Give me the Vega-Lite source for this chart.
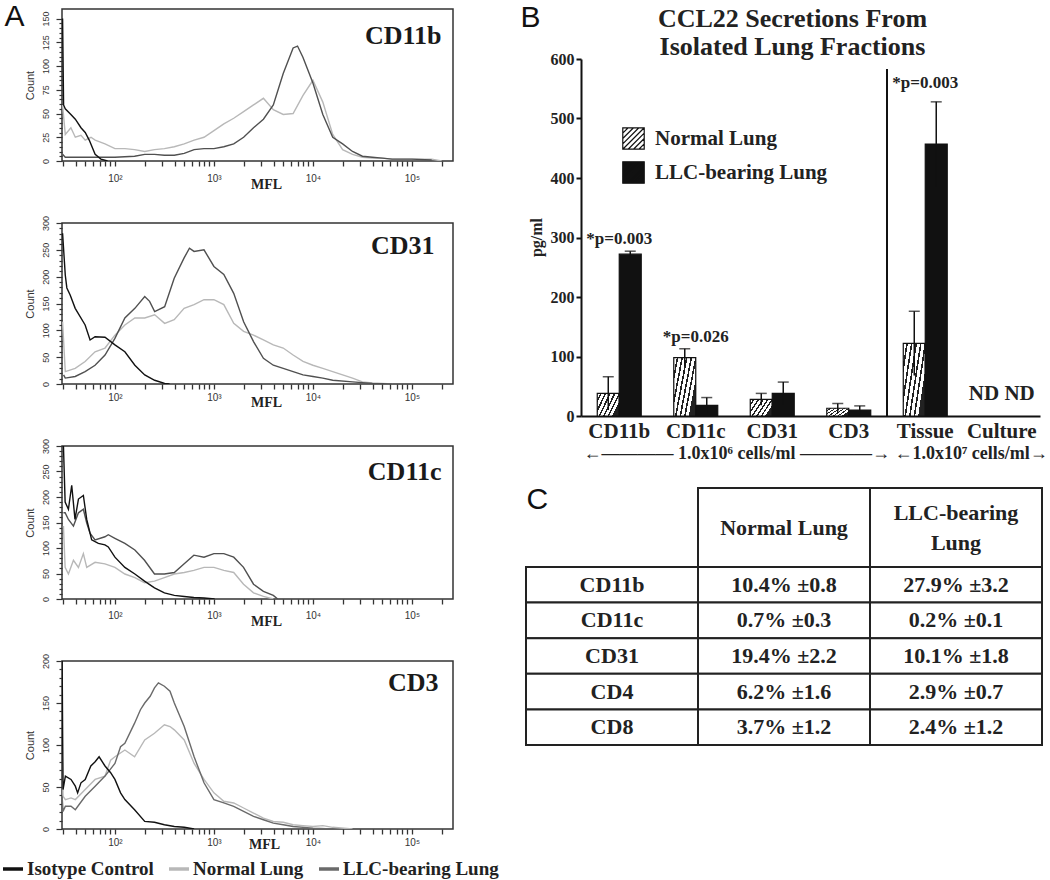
{
"$schema": "https://vega.github.io/schema/vega-lite/v6.json",
"padding": 0,
"background": "white",
"config": {
  "font": "Liberation Sans",
  "view": {"stroke": "#333", "strokeWidth": 1.5},
  "axis": {"grid": false}
},
"datasets": {
"hist": [
{"p":"CD11b","s":"Normal Lung","x":29.6,"y":59},{"p":"CD11b","s":"Normal Lung","x":31.5,"y":28},{"p":"CD11b","s":"Normal Lung","x":35.9,"y":35},{"p":"CD11b","s":"Normal Lung","x":39.8,"y":25},{"p":"CD11b","s":"Normal Lung","x":45.4,"y":27},{"p":"CD11b","s":"Normal Lung","x":50.1,"y":22},{"p":"CD11b","s":"Normal Lung","x":57.3,"y":25},{"p":"CD11b","s":"Normal Lung","x":63.1,"y":22},{"p":"CD11b","s":"Normal Lung","x":79.4,"y":18},{"p":"CD11b","s":"Normal Lung","x":100,"y":13},{"p":"CD11b","s":"Normal Lung","x":126,"y":13},{"p":"CD11b","s":"Normal Lung","x":158,"y":12},{"p":"CD11b","s":"Normal Lung","x":200,"y":10},{"p":"CD11b","s":"Normal Lung","x":251,"y":12},{"p":"CD11b","s":"Normal Lung","x":316,"y":13},{"p":"CD11b","s":"Normal Lung","x":398,"y":15},{"p":"CD11b","s":"Normal Lung","x":501,"y":18},{"p":"CD11b","s":"Normal Lung","x":631,"y":22},{"p":"CD11b","s":"Normal Lung","x":794,"y":25},{"p":"CD11b","s":"Normal Lung","x":1000,"y":32},{"p":"CD11b","s":"Normal Lung","x":1259,"y":39},{"p":"CD11b","s":"Normal Lung","x":1585,"y":45},{"p":"CD11b","s":"Normal Lung","x":1995,"y":52},{"p":"CD11b","s":"Normal Lung","x":2512,"y":59},{"p":"CD11b","s":"Normal Lung","x":3162,"y":66},{"p":"CD11b","s":"Normal Lung","x":3981,"y":54},{"p":"CD11b","s":"Normal Lung","x":5012,"y":49},{"p":"CD11b","s":"Normal Lung","x":6310,"y":50},{"p":"CD11b","s":"Normal Lung","x":7943,"y":69},{"p":"CD11b","s":"Normal Lung","x":10000,"y":85},{"p":"CD11b","s":"Normal Lung","x":12589,"y":62},{"p":"CD11b","s":"Normal Lung","x":15849,"y":28},{"p":"CD11b","s":"Normal Lung","x":19953,"y":12},{"p":"CD11b","s":"Normal Lung","x":25119,"y":7},{"p":"CD11b","s":"Normal Lung","x":31623,"y":4},{"p":"CD11b","s":"Normal Lung","x":39811,"y":3},{"p":"CD11b","s":"Normal Lung","x":50119,"y":3},{"p":"CD11b","s":"Normal Lung","x":63096,"y":2},{"p":"CD11b","s":"Normal Lung","x":79433,"y":2},{"p":"CD11b","s":"Normal Lung","x":100000,"y":2},{"p":"CD11b","s":"Normal Lung","x":158489,"y":2},{"p":"CD11b","s":"Normal Lung","x":200000,"y":0},
{"p":"CD11b","s":"LLC-bearing Lung","x":29.6,"y":7},{"p":"CD11b","s":"LLC-bearing Lung","x":31.5,"y":4},{"p":"CD11b","s":"LLC-bearing Lung","x":50.1,"y":4},{"p":"CD11b","s":"LLC-bearing Lung","x":79.4,"y":4},{"p":"CD11b","s":"LLC-bearing Lung","x":100,"y":4},{"p":"CD11b","s":"LLC-bearing Lung","x":158,"y":5},{"p":"CD11b","s":"LLC-bearing Lung","x":200,"y":7},{"p":"CD11b","s":"LLC-bearing Lung","x":251,"y":7},{"p":"CD11b","s":"LLC-bearing Lung","x":316,"y":6},{"p":"CD11b","s":"LLC-bearing Lung","x":398,"y":6},{"p":"CD11b","s":"LLC-bearing Lung","x":501,"y":8},{"p":"CD11b","s":"LLC-bearing Lung","x":631,"y":12},{"p":"CD11b","s":"LLC-bearing Lung","x":794,"y":13},{"p":"CD11b","s":"LLC-bearing Lung","x":1000,"y":13},{"p":"CD11b","s":"LLC-bearing Lung","x":1259,"y":15},{"p":"CD11b","s":"LLC-bearing Lung","x":1585,"y":18},{"p":"CD11b","s":"LLC-bearing Lung","x":1995,"y":25},{"p":"CD11b","s":"LLC-bearing Lung","x":2512,"y":35},{"p":"CD11b","s":"LLC-bearing Lung","x":3162,"y":44},{"p":"CD11b","s":"LLC-bearing Lung","x":3981,"y":59},{"p":"CD11b","s":"LLC-bearing Lung","x":5012,"y":92},{"p":"CD11b","s":"LLC-bearing Lung","x":6310,"y":119},{"p":"CD11b","s":"LLC-bearing Lung","x":6990,"y":121},{"p":"CD11b","s":"LLC-bearing Lung","x":7943,"y":109},{"p":"CD11b","s":"LLC-bearing Lung","x":10000,"y":82},{"p":"CD11b","s":"LLC-bearing Lung","x":12589,"y":49},{"p":"CD11b","s":"LLC-bearing Lung","x":15849,"y":25},{"p":"CD11b","s":"LLC-bearing Lung","x":19953,"y":18},{"p":"CD11b","s":"LLC-bearing Lung","x":25119,"y":10},{"p":"CD11b","s":"LLC-bearing Lung","x":31623,"y":5},{"p":"CD11b","s":"LLC-bearing Lung","x":39811,"y":4},{"p":"CD11b","s":"LLC-bearing Lung","x":50119,"y":3},{"p":"CD11b","s":"LLC-bearing Lung","x":63096,"y":2},{"p":"CD11b","s":"LLC-bearing Lung","x":100000,"y":2},{"p":"CD11b","s":"LLC-bearing Lung","x":158489,"y":1},
{"p":"CD11b","s":"Isotype Control","x":29.6,"y":150},{"p":"CD11b","s":"Isotype Control","x":30.3,"y":59},{"p":"CD11b","s":"Isotype Control","x":31.5,"y":55},{"p":"CD11b","s":"Isotype Control","x":35.9,"y":49},{"p":"CD11b","s":"Isotype Control","x":39.8,"y":44},{"p":"CD11b","s":"Isotype Control","x":45.4,"y":35},{"p":"CD11b","s":"Isotype Control","x":50.1,"y":30},{"p":"CD11b","s":"Isotype Control","x":55,"y":22},{"p":"CD11b","s":"Isotype Control","x":63.1,"y":7},{"p":"CD11b","s":"Isotype Control","x":72.2,"y":2},{"p":"CD11b","s":"Isotype Control","x":84.3,"y":0},

{"p":"CD31","s":"Normal Lung","x":29.6,"y":116},{"p":"CD31","s":"Normal Lung","x":31.5,"y":23},{"p":"CD31","s":"Normal Lung","x":39.7,"y":29},{"p":"CD31","s":"Normal Lung","x":50,"y":42},{"p":"CD31","s":"Normal Lung","x":63,"y":60},{"p":"CD31","s":"Normal Lung","x":79.4,"y":67},{"p":"CD31","s":"Normal Lung","x":100,"y":91},{"p":"CD31","s":"Normal Lung","x":126,"y":110},{"p":"CD31","s":"Normal Lung","x":159,"y":123},{"p":"CD31","s":"Normal Lung","x":200,"y":123},{"p":"CD31","s":"Normal Lung","x":252,"y":129},{"p":"CD31","s":"Normal Lung","x":318,"y":113},{"p":"CD31","s":"Normal Lung","x":397,"y":120},{"p":"CD31","s":"Normal Lung","x":500,"y":141},{"p":"CD31","s":"Normal Lung","x":630,"y":148},{"p":"CD31","s":"Normal Lung","x":794,"y":157},{"p":"CD31","s":"Normal Lung","x":1000,"y":157},{"p":"CD31","s":"Normal Lung","x":1259,"y":148},{"p":"CD31","s":"Normal Lung","x":1585,"y":113},{"p":"CD31","s":"Normal Lung","x":1995,"y":98},{"p":"CD31","s":"Normal Lung","x":2512,"y":91},{"p":"CD31","s":"Normal Lung","x":3162,"y":82},{"p":"CD31","s":"Normal Lung","x":3981,"y":73},{"p":"CD31","s":"Normal Lung","x":5012,"y":67},{"p":"CD31","s":"Normal Lung","x":6310,"y":54},{"p":"CD31","s":"Normal Lung","x":7943,"y":42},{"p":"CD31","s":"Normal Lung","x":10000,"y":35},{"p":"CD31","s":"Normal Lung","x":12589,"y":29},{"p":"CD31","s":"Normal Lung","x":15849,"y":23},{"p":"CD31","s":"Normal Lung","x":19953,"y":17},{"p":"CD31","s":"Normal Lung","x":25119,"y":11},{"p":"CD31","s":"Normal Lung","x":31623,"y":4},{"p":"CD31","s":"Normal Lung","x":39811,"y":2},{"p":"CD31","s":"Normal Lung","x":63096,"y":0},
{"p":"CD31","s":"LLC-bearing Lung","x":30.3,"y":17},{"p":"CD31","s":"LLC-bearing Lung","x":31.5,"y":11},{"p":"CD31","s":"LLC-bearing Lung","x":39.7,"y":14},{"p":"CD31","s":"LLC-bearing Lung","x":50,"y":23},{"p":"CD31","s":"LLC-bearing Lung","x":63,"y":35},{"p":"CD31","s":"LLC-bearing Lung","x":79.4,"y":54},{"p":"CD31","s":"LLC-bearing Lung","x":100,"y":85},{"p":"CD31","s":"LLC-bearing Lung","x":126,"y":123},{"p":"CD31","s":"LLC-bearing Lung","x":159,"y":141},{"p":"CD31","s":"LLC-bearing Lung","x":200,"y":163},{"p":"CD31","s":"LLC-bearing Lung","x":224,"y":154},{"p":"CD31","s":"LLC-bearing Lung","x":252,"y":135},{"p":"CD31","s":"LLC-bearing Lung","x":318,"y":144},{"p":"CD31","s":"LLC-bearing Lung","x":397,"y":197},{"p":"CD31","s":"LLC-bearing Lung","x":500,"y":235},{"p":"CD31","s":"LLC-bearing Lung","x":566,"y":253},{"p":"CD31","s":"LLC-bearing Lung","x":630,"y":247},{"p":"CD31","s":"LLC-bearing Lung","x":794,"y":250},{"p":"CD31","s":"LLC-bearing Lung","x":1000,"y":219},{"p":"CD31","s":"LLC-bearing Lung","x":1259,"y":204},{"p":"CD31","s":"LLC-bearing Lung","x":1585,"y":169},{"p":"CD31","s":"LLC-bearing Lung","x":1995,"y":116},{"p":"CD31","s":"LLC-bearing Lung","x":2512,"y":79},{"p":"CD31","s":"LLC-bearing Lung","x":3162,"y":48},{"p":"CD31","s":"LLC-bearing Lung","x":3981,"y":35},{"p":"CD31","s":"LLC-bearing Lung","x":5012,"y":29},{"p":"CD31","s":"LLC-bearing Lung","x":6310,"y":23},{"p":"CD31","s":"LLC-bearing Lung","x":7943,"y":17},{"p":"CD31","s":"LLC-bearing Lung","x":10000,"y":14},{"p":"CD31","s":"LLC-bearing Lung","x":12589,"y":11},{"p":"CD31","s":"LLC-bearing Lung","x":15849,"y":7},{"p":"CD31","s":"LLC-bearing Lung","x":25119,"y":4},{"p":"CD31","s":"LLC-bearing Lung","x":39811,"y":1},{"p":"CD31","s":"LLC-bearing Lung","x":63096,"y":0},
{"p":"CD31","s":"Isotype Control","x":29.6,"y":281},{"p":"CD31","s":"Isotype Control","x":31.5,"y":203},{"p":"CD31","s":"Isotype Control","x":32.7,"y":179},{"p":"CD31","s":"Isotype Control","x":35.3,"y":166},{"p":"CD31","s":"Isotype Control","x":39.7,"y":141},{"p":"CD31","s":"Isotype Control","x":50,"y":110},{"p":"CD31","s":"Isotype Control","x":56.1,"y":82},{"p":"CD31","s":"Isotype Control","x":63,"y":88},{"p":"CD31","s":"Isotype Control","x":79.4,"y":87},{"p":"CD31","s":"Isotype Control","x":100,"y":73},{"p":"CD31","s":"Isotype Control","x":126,"y":60},{"p":"CD31","s":"Isotype Control","x":159,"y":35},{"p":"CD31","s":"Isotype Control","x":200,"y":17},{"p":"CD31","s":"Isotype Control","x":252,"y":7},{"p":"CD31","s":"Isotype Control","x":318,"y":1},{"p":"CD31","s":"Isotype Control","x":356,"y":0},

{"p":"CD11c","s":"Normal Lung","x":30.2,"y":143},{"p":"CD11c","s":"Normal Lung","x":31.4,"y":62},{"p":"CD11c","s":"Normal Lung","x":33.9,"y":49},{"p":"CD11c","s":"Normal Lung","x":38.1,"y":76},{"p":"CD11c","s":"Normal Lung","x":42.8,"y":62},{"p":"CD11c","s":"Normal Lung","x":48,"y":89},{"p":"CD11c","s":"Normal Lung","x":51.9,"y":62},{"p":"CD11c","s":"Normal Lung","x":63,"y":72},{"p":"CD11c","s":"Normal Lung","x":79.3,"y":69},{"p":"CD11c","s":"Normal Lung","x":100,"y":62},{"p":"CD11c","s":"Normal Lung","x":126,"y":49},{"p":"CD11c","s":"Normal Lung","x":159,"y":42},{"p":"CD11c","s":"Normal Lung","x":199,"y":32},{"p":"CD11c","s":"Normal Lung","x":251,"y":35},{"p":"CD11c","s":"Normal Lung","x":316,"y":42},{"p":"CD11c","s":"Normal Lung","x":398,"y":49},{"p":"CD11c","s":"Normal Lung","x":501,"y":52},{"p":"CD11c","s":"Normal Lung","x":627,"y":56},{"p":"CD11c","s":"Normal Lung","x":794,"y":62},{"p":"CD11c","s":"Normal Lung","x":1000,"y":62},{"p":"CD11c","s":"Normal Lung","x":1259,"y":56},{"p":"CD11c","s":"Normal Lung","x":1585,"y":52},{"p":"CD11c","s":"Normal Lung","x":1991,"y":29},{"p":"CD11c","s":"Normal Lung","x":2512,"y":12},{"p":"CD11c","s":"Normal Lung","x":3162,"y":5},{"p":"CD11c","s":"Normal Lung","x":3981,"y":0},
{"p":"CD11c","s":"LLC-bearing Lung","x":30.2,"y":169},{"p":"CD11c","s":"LLC-bearing Lung","x":31.4,"y":169},{"p":"CD11c","s":"LLC-bearing Lung","x":33.9,"y":156},{"p":"CD11c","s":"LLC-bearing Lung","x":38.1,"y":143},{"p":"CD11c","s":"LLC-bearing Lung","x":42.8,"y":169},{"p":"CD11c","s":"LLC-bearing Lung","x":48,"y":176},{"p":"CD11c","s":"LLC-bearing Lung","x":51.9,"y":149},{"p":"CD11c","s":"LLC-bearing Lung","x":56,"y":129},{"p":"CD11c","s":"LLC-bearing Lung","x":63,"y":116},{"p":"CD11c","s":"LLC-bearing Lung","x":79.3,"y":122},{"p":"CD11c","s":"LLC-bearing Lung","x":85.7,"y":126},{"p":"CD11c","s":"LLC-bearing Lung","x":100,"y":119},{"p":"CD11c","s":"LLC-bearing Lung","x":126,"y":109},{"p":"CD11c","s":"LLC-bearing Lung","x":159,"y":96},{"p":"CD11c","s":"LLC-bearing Lung","x":199,"y":76},{"p":"CD11c","s":"LLC-bearing Lung","x":251,"y":49},{"p":"CD11c","s":"LLC-bearing Lung","x":316,"y":49},{"p":"CD11c","s":"LLC-bearing Lung","x":398,"y":52},{"p":"CD11c","s":"LLC-bearing Lung","x":501,"y":69},{"p":"CD11c","s":"LLC-bearing Lung","x":627,"y":86},{"p":"CD11c","s":"LLC-bearing Lung","x":794,"y":82},{"p":"CD11c","s":"LLC-bearing Lung","x":1000,"y":89},{"p":"CD11c","s":"LLC-bearing Lung","x":1259,"y":89},{"p":"CD11c","s":"LLC-bearing Lung","x":1585,"y":82},{"p":"CD11c","s":"LLC-bearing Lung","x":1991,"y":62},{"p":"CD11c","s":"LLC-bearing Lung","x":2512,"y":29},{"p":"CD11c","s":"LLC-bearing Lung","x":3162,"y":15},{"p":"CD11c","s":"LLC-bearing Lung","x":3981,"y":7},{"p":"CD11c","s":"LLC-bearing Lung","x":4406,"y":0},
{"p":"CD11c","s":"Isotype Control","x":30.2,"y":300},{"p":"CD11c","s":"Isotype Control","x":31.4,"y":190},{"p":"CD11c","s":"Isotype Control","x":33.9,"y":176},{"p":"CD11c","s":"Isotype Control","x":36.6,"y":223},{"p":"CD11c","s":"Isotype Control","x":39.5,"y":156},{"p":"CD11c","s":"Isotype Control","x":42.8,"y":196},{"p":"CD11c","s":"Isotype Control","x":48,"y":203},{"p":"CD11c","s":"Isotype Control","x":51.9,"y":156},{"p":"CD11c","s":"Isotype Control","x":58.2,"y":116},{"p":"CD11c","s":"Isotype Control","x":68,"y":109},{"p":"CD11c","s":"Isotype Control","x":79.3,"y":106},{"p":"CD11c","s":"Isotype Control","x":85.7,"y":102},{"p":"CD11c","s":"Isotype Control","x":100,"y":82},{"p":"CD11c","s":"Isotype Control","x":126,"y":62},{"p":"CD11c","s":"Isotype Control","x":159,"y":49},{"p":"CD11c","s":"Isotype Control","x":199,"y":35},{"p":"CD11c","s":"Isotype Control","x":251,"y":22},{"p":"CD11c","s":"Isotype Control","x":316,"y":12},{"p":"CD11c","s":"Isotype Control","x":398,"y":7},{"p":"CD11c","s":"Isotype Control","x":501,"y":5},{"p":"CD11c","s":"Isotype Control","x":627,"y":3},{"p":"CD11c","s":"Isotype Control","x":794,"y":2},{"p":"CD11c","s":"Isotype Control","x":1016,"y":0},

{"p":"CD3","s":"Normal Lung","x":29.3,"y":118},{"p":"CD3","s":"Normal Lung","x":29.9,"y":39},{"p":"CD3","s":"Normal Lung","x":31.6,"y":35},{"p":"CD3","s":"Normal Lung","x":36,"y":37},{"p":"CD3","s":"Normal Lung","x":39.8,"y":35},{"p":"CD3","s":"Normal Lung","x":50.1,"y":47},{"p":"CD3","s":"Normal Lung","x":63.1,"y":59},{"p":"CD3","s":"Normal Lung","x":79.4,"y":63},{"p":"CD3","s":"Normal Lung","x":90.5,"y":82},{"p":"CD3","s":"Normal Lung","x":100,"y":86},{"p":"CD3","s":"Normal Lung","x":126,"y":94},{"p":"CD3","s":"Normal Lung","x":158,"y":86},{"p":"CD3","s":"Normal Lung","x":200,"y":106},{"p":"CD3","s":"Normal Lung","x":251,"y":114},{"p":"CD3","s":"Normal Lung","x":316,"y":124},{"p":"CD3","s":"Normal Lung","x":360,"y":122},{"p":"CD3","s":"Normal Lung","x":398,"y":118},{"p":"CD3","s":"Normal Lung","x":501,"y":106},{"p":"CD3","s":"Normal Lung","x":631,"y":78},{"p":"CD3","s":"Normal Lung","x":794,"y":59},{"p":"CD3","s":"Normal Lung","x":1000,"y":43},{"p":"CD3","s":"Normal Lung","x":1259,"y":33},{"p":"CD3","s":"Normal Lung","x":1585,"y":31},{"p":"CD3","s":"Normal Lung","x":1995,"y":25},{"p":"CD3","s":"Normal Lung","x":2512,"y":19},{"p":"CD3","s":"Normal Lung","x":3162,"y":13},{"p":"CD3","s":"Normal Lung","x":3981,"y":9},{"p":"CD3","s":"Normal Lung","x":5012,"y":8},{"p":"CD3","s":"Normal Lung","x":6310,"y":5},{"p":"CD3","s":"Normal Lung","x":7943,"y":4},{"p":"CD3","s":"Normal Lung","x":10000,"y":3},{"p":"CD3","s":"Normal Lung","x":12589,"y":4},{"p":"CD3","s":"Normal Lung","x":15849,"y":2},{"p":"CD3","s":"Normal Lung","x":25119,"y":0},
{"p":"CD3","s":"LLC-bearing Lung","x":29.3,"y":39},{"p":"CD3","s":"LLC-bearing Lung","x":29.9,"y":21},{"p":"CD3","s":"LLC-bearing Lung","x":31.6,"y":27},{"p":"CD3","s":"LLC-bearing Lung","x":36,"y":27},{"p":"CD3","s":"LLC-bearing Lung","x":39.8,"y":23},{"p":"CD3","s":"LLC-bearing Lung","x":50.1,"y":39},{"p":"CD3","s":"LLC-bearing Lung","x":63.1,"y":51},{"p":"CD3","s":"LLC-bearing Lung","x":79.4,"y":63},{"p":"CD3","s":"LLC-bearing Lung","x":100,"y":78},{"p":"CD3","s":"LLC-bearing Lung","x":114,"y":98},{"p":"CD3","s":"LLC-bearing Lung","x":126,"y":102},{"p":"CD3","s":"LLC-bearing Lung","x":158,"y":126},{"p":"CD3","s":"LLC-bearing Lung","x":181,"y":142},{"p":"CD3","s":"LLC-bearing Lung","x":200,"y":150},{"p":"CD3","s":"LLC-bearing Lung","x":227,"y":158},{"p":"CD3","s":"LLC-bearing Lung","x":251,"y":168},{"p":"CD3","s":"LLC-bearing Lung","x":275,"y":174},{"p":"CD3","s":"LLC-bearing Lung","x":316,"y":170},{"p":"CD3","s":"LLC-bearing Lung","x":360,"y":164},{"p":"CD3","s":"LLC-bearing Lung","x":398,"y":150},{"p":"CD3","s":"LLC-bearing Lung","x":501,"y":122},{"p":"CD3","s":"LLC-bearing Lung","x":631,"y":86},{"p":"CD3","s":"LLC-bearing Lung","x":794,"y":55},{"p":"CD3","s":"LLC-bearing Lung","x":1000,"y":35},{"p":"CD3","s":"LLC-bearing Lung","x":1259,"y":31},{"p":"CD3","s":"LLC-bearing Lung","x":1585,"y":27},{"p":"CD3","s":"LLC-bearing Lung","x":1995,"y":21},{"p":"CD3","s":"LLC-bearing Lung","x":2512,"y":15},{"p":"CD3","s":"LLC-bearing Lung","x":3162,"y":11},{"p":"CD3","s":"LLC-bearing Lung","x":3981,"y":7},{"p":"CD3","s":"LLC-bearing Lung","x":5012,"y":5},{"p":"CD3","s":"LLC-bearing Lung","x":6310,"y":3},{"p":"CD3","s":"LLC-bearing Lung","x":10000,"y":1},{"p":"CD3","s":"LLC-bearing Lung","x":15849,"y":0},
{"p":"CD3","s":"Isotype Control","x":29.3,"y":200},{"p":"CD3","s":"Isotype Control","x":29.9,"y":47},{"p":"CD3","s":"Isotype Control","x":31.6,"y":63},{"p":"CD3","s":"Isotype Control","x":36,"y":59},{"p":"CD3","s":"Isotype Control","x":39.8,"y":51},{"p":"CD3","s":"Isotype Control","x":42,"y":43},{"p":"CD3","s":"Isotype Control","x":45.4,"y":55},{"p":"CD3","s":"Isotype Control","x":50.1,"y":59},{"p":"CD3","s":"Isotype Control","x":57.1,"y":75},{"p":"CD3","s":"Isotype Control","x":63.1,"y":80},{"p":"CD3","s":"Isotype Control","x":69.2,"y":86},{"p":"CD3","s":"Isotype Control","x":79.4,"y":75},{"p":"CD3","s":"Isotype Control","x":90.5,"y":67},{"p":"CD3","s":"Isotype Control","x":100,"y":59},{"p":"CD3","s":"Isotype Control","x":114,"y":43},{"p":"CD3","s":"Isotype Control","x":126,"y":35},{"p":"CD3","s":"Isotype Control","x":158,"y":23},{"p":"CD3","s":"Isotype Control","x":200,"y":9},{"p":"CD3","s":"Isotype Control","x":251,"y":8},{"p":"CD3","s":"Isotype Control","x":316,"y":5},{"p":"CD3","s":"Isotype Control","x":398,"y":3},{"p":"CD3","s":"Isotype Control","x":501,"y":2},{"p":"CD3","s":"Isotype Control","x":631,"y":0}
],
"bars": [
{"cat":"CD11b","grp":"Normal Lung","v":38,"lo":10,"hi":66},
{"cat":"CD11b","grp":"LLC-bearing Lung","v":272,"lo":267,"hi":277},
{"cat":"CD11c","grp":"Normal Lung","v":98,"lo":83,"hi":113},
{"cat":"CD11c","grp":"LLC-bearing Lung","v":18,"lo":5,"hi":31},
{"cat":"CD31","grp":"Normal Lung","v":28,"lo":18,"hi":38},
{"cat":"CD31","grp":"LLC-bearing Lung","v":38,"lo":19,"hi":57},
{"cat":"CD3","grp":"Normal Lung","v":13,"lo":5,"hi":21},
{"cat":"CD3","grp":"LLC-bearing Lung","v":10,"lo":3,"hi":17},
{"cat":"Tissue","grp":"Normal Lung","v":122,"lo":68,"hi":176},
{"cat":"Tissue","grp":"LLC-bearing Lung","v":457,"lo":386,"hi":528}
],
"ann": [
{"cat":"CD11b","val":298,"label":"*p=0.003"},
{"cat":"CD11c","val":132,"label":"*p=0.026"},
{"cat":"Tissue","val":559,"label":"*p=0.003"}
],
"tblh": [
{"col":"c0","text":""},
{"col":"c1","text":"Normal Lung"},
{"col":"c2","text":"LLC-bearing\nLung"}
],
"tblb": [
{"row":"CD11b","col":"c0","text":"CD11b"},{"row":"CD11b","col":"c1","text":"10.4% ±0.8"},{"row":"CD11b","col":"c2","text":"27.9% ±3.2"},
{"row":"CD11c","col":"c0","text":"CD11c"},{"row":"CD11c","col":"c1","text":"0.7% ±0.3"},{"row":"CD11c","col":"c2","text":"0.2% ±0.1"},
{"row":"CD31","col":"c0","text":"CD31"},{"row":"CD31","col":"c1","text":"19.4% ±2.2"},{"row":"CD31","col":"c2","text":"10.1% ±1.8"},
{"row":"CD4","col":"c0","text":"CD4"},{"row":"CD4","col":"c1","text":"6.2% ±1.6"},{"row":"CD4","col":"c2","text":"2.9% ±0.7"},
{"row":"CD8","col":"c0","text":"CD8"},{"row":"CD8","col":"c1","text":"3.7% ±1.2"},{"row":"CD8","col":"c2","text":"2.4% ±1.2"}
]
},
"hconcat": [
{
 "vconcat": [
  {
   "width": 391, "height": 152,
   "data": {"name":"hist"},
   "transform": [{"filter":"datum.p=='CD11b'"}],
   "layer": [
    {
     "mark": {"type":"line","clip":true,"strokeWidth":1.4},
     "encoding": {
      "x": {"field":"x","type":"quantitative","scale":{"type":"log","domain":[29.2,260000]},
        "axis":{"values":[30,40,50,60,70,80,90,100,200,300,400,500,600,700,800,900,1000,2000,3000,4000,5000,6000,7000,8000,9000,10000,20000,30000,40000,50000,60000,70000,80000,90000,100000,200000],
          "labelExpr":"datum.value==100?'10²':datum.value==1000?'10³':datum.value==10000?'10⁴':datum.value==100000?'10⁵':''",
          "labelOverlap":false,"labelFlush":false,"domain":false,"tickSize":5,"tickColor":"#333","tickWidth":1.3,"labelFontSize":10,"labelFont":"Liberation Sans","labelColor":"#333","labelPadding":7,
          "title":"MFL","titleFont":"Liberation Serif","titleFontWeight":"bold","titleFontSize":14,"titleColor":"#222","titleX":204,"titleY":23,"titleAlign":"center","titleBaseline":"middle"}},
      "y": {"field":"y","type":"quantitative","scale":{"domain":[0,150]},
        "axis":{"values":[0,5,10,15,20,25,30,35,40,45,50,55,60,65,70,75,80,85,90,95,100,105,110,115,120,125,130,135,140,145,150],
          "labelExpr":"datum.value%25==0?datum.label:''","tickSize":{"condition":{"test":"datum.value%25==0","value":6},"value":3},
          "tickColor":"#333","tickWidth":1.2,"domain":false,"labelAngle":270,"labelAlign":"center","labelBaseline":"bottom","labelFontSize":9,"labelColor":"#333","labelPadding":6,
          "title":"Count","titleFont":"Liberation Sans","titleFontSize":11,"titleFontWeight":"normal","titleColor":"#333","titlePadding":6}},
      "stroke": {"field":"s","type":"nominal","scale":{"domain":["Isotype Control","Normal Lung","LLC-bearing Lung"],"range":["#111111","#b8b8b8","#505050"]},"legend":null}
     }
    },
    {
     "mark": {"type":"line","clip":true,"strokeOpacity":0},
     "encoding": {
      "x": {"field":"x","type":"quantitative","scale":{"type":"log","domain":[29.2,260000]},
        "axis":{"orient":"top","labels":false,"ticks":false,"domain":false,"title":"CD11b","titleX":379,"titleY":34,"titleAlign":"right","titleBaseline":"alphabetic","titleFont":"Liberation Serif","titleFontSize":26,"titleFontWeight":"bold","titleColor":"#1a1a1a"}},
      "y": {"field":"y","type":"quantitative",
        "axis":{"orient":"right","labels":false,"ticks":false,"domain":false,"title":"A","titleAngle":0,"titleX":-449,"titleY":16,"titleAlign":"left","titleBaseline":"alphabetic","titleFont":"Liberation Sans","titleFontSize":30,"titleFontWeight":"normal","titleColor":"#111"}}
     }
    }
   ],
   "resolve": {"axis":{"x":"independent","y":"independent"}}
  },
  {
   "width": 391, "height": 161,
   "data": {"name":"hist"},
   "transform": [{"filter":"datum.p=='CD31'"}],
   "layer": [
    {
     "mark": {"type":"line","clip":true,"strokeWidth":1.4},
     "encoding": {
      "x": {"field":"x","type":"quantitative","scale":{"type":"log","domain":[29.2,260000]},
        "axis":{"values":[30,40,50,60,70,80,90,100,200,300,400,500,600,700,800,900,1000,2000,3000,4000,5000,6000,7000,8000,9000,10000,20000,30000,40000,50000,60000,70000,80000,90000,100000,200000],
          "labelExpr":"datum.value==100?'10²':datum.value==1000?'10³':datum.value==10000?'10⁴':datum.value==100000?'10⁵':''",
          "labelOverlap":false,"labelFlush":false,"domain":false,"tickSize":5,"tickColor":"#333","tickWidth":1.3,"labelFontSize":10,"labelFont":"Liberation Sans","labelColor":"#333","labelPadding":3,
          "title":"MFL","titleFont":"Liberation Serif","titleFontWeight":"bold","titleFontSize":14,"titleColor":"#222","titleX":204,"titleY":18,"titleAlign":"center","titleBaseline":"middle"}},
      "y": {"field":"y","type":"quantitative","scale":{"domain":[0,300]},
        "axis":{"values":[0,10,20,30,40,50,60,70,80,90,100,110,120,130,140,150,160,170,180,190,200,210,220,230,240,250,260,270,280,290,300],
          "labelExpr":"datum.value%50==0?datum.label:''","tickSize":{"condition":{"test":"datum.value%50==0","value":6},"value":3},
          "tickColor":"#333","tickWidth":1.2,"domain":false,"labelAngle":270,"labelAlign":"center","labelBaseline":"bottom","labelFontSize":9,"labelColor":"#333","labelPadding":6,
          "title":"Count","titleFont":"Liberation Sans","titleFontSize":11,"titleFontWeight":"normal","titleColor":"#333","titlePadding":6}},
      "stroke": {"field":"s","type":"nominal","scale":{"domain":["Isotype Control","Normal Lung","LLC-bearing Lung"],"range":["#111111","#b8b8b8","#505050"]},"legend":null}
     }
    },
    {
     "mark": {"type":"line","clip":true,"strokeOpacity":0},
     "encoding": {
      "x": {"field":"x","type":"quantitative","scale":{"type":"log","domain":[29.2,260000]},
        "axis":{"orient":"top","labels":false,"ticks":false,"domain":false,"title":"CD31","titleX":372,"titleY":30,"titleAlign":"right","titleBaseline":"alphabetic","titleFont":"Liberation Serif","titleFontSize":26,"titleFontWeight":"bold","titleColor":"#1a1a1a"}},
      "y": {"field":"y","type":"quantitative","axis":null}
     }
    }
   ],
   "resolve": {"axis":{"x":"independent","y":"independent"}}
  },
  {
   "width": 391, "height": 153,
   "data": {"name":"hist"},
   "transform": [{"filter":"datum.p=='CD11c'"}],
   "layer": [
    {
     "mark": {"type":"line","clip":true,"strokeWidth":1.4},
     "encoding": {
      "x": {"field":"x","type":"quantitative","scale":{"type":"log","domain":[29.2,260000]},
        "axis":{"values":[30,40,50,60,70,80,90,100,200,300,400,500,600,700,800,900,1000,2000,3000,4000,5000,6000,7000,8000,9000,10000,20000,30000,40000,50000,60000,70000,80000,90000,100000,200000],
          "labelExpr":"datum.value==100?'10²':datum.value==1000?'10³':datum.value==10000?'10⁴':datum.value==100000?'10⁵':''",
          "labelOverlap":false,"labelFlush":false,"domain":false,"tickSize":5,"tickColor":"#333","tickWidth":1.3,"labelFontSize":10,"labelFont":"Liberation Sans","labelColor":"#333","labelPadding":6,
          "title":"MFL","titleFont":"Liberation Serif","titleFontWeight":"bold","titleFontSize":14,"titleColor":"#222","titleX":204,"titleY":22,"titleAlign":"center","titleBaseline":"middle"}},
      "y": {"field":"y","type":"quantitative","scale":{"domain":[0,300]},
        "axis":{"values":[0,10,20,30,40,50,60,70,80,90,100,110,120,130,140,150,160,170,180,190,200,210,220,230,240,250,260,270,280,290,300],
          "labelExpr":"datum.value%50==0?datum.label:''","tickSize":{"condition":{"test":"datum.value%50==0","value":6},"value":3},
          "tickColor":"#333","tickWidth":1.2,"domain":false,"labelAngle":270,"labelAlign":"center","labelBaseline":"bottom","labelFontSize":9,"labelColor":"#333","labelPadding":6,
          "title":"Count","titleFont":"Liberation Sans","titleFontSize":11,"titleFontWeight":"normal","titleColor":"#333","titlePadding":6}},
      "stroke": {"field":"s","type":"nominal","scale":{"domain":["Isotype Control","Normal Lung","LLC-bearing Lung"],"range":["#111111","#b8b8b8","#505050"]},"legend":null}
     }
    },
    {
     "mark": {"type":"line","clip":true,"strokeOpacity":0},
     "encoding": {
      "x": {"field":"x","type":"quantitative","scale":{"type":"log","domain":[29.2,260000]},
        "axis":{"orient":"top","labels":false,"ticks":false,"domain":false,"title":"CD11c","titleX":379,"titleY":33,"titleAlign":"right","titleBaseline":"alphabetic","titleFont":"Liberation Serif","titleFontSize":26,"titleFontWeight":"bold","titleColor":"#1a1a1a"}},
      "y": {"field":"y","type":"quantitative","axis":null}
     }
    }
   ],
   "resolve": {"axis":{"x":"independent","y":"independent"}}
  },
  {
   "width": 391, "height": 168,
   "data": {"name":"hist"},
   "transform": [{"filter":"datum.p=='CD3'"}],
   "layer": [
    {
     "mark": {"type":"line","clip":true,"strokeWidth":1.4},
     "encoding": {
      "x": {"field":"x","type":"quantitative","scale":{"type":"log","domain":[29.2,260000]},
        "axis":{"values":[30,40,50,60,70,80,90,100,200,300,400,500,600,700,800,900,1000,2000,3000,4000,5000,6000,7000,8000,9000,10000,20000,30000,40000,50000,60000,70000,80000,90000,100000,200000],
          "labelExpr":"datum.value==100?'10²':datum.value==1000?'10³':datum.value==10000?'10⁴':datum.value==100000?'10⁵':''",
          "labelOverlap":false,"labelFlush":false,"domain":false,"tickSize":5,"tickColor":"#333","tickWidth":1.3,"labelFontSize":10,"labelFont":"Liberation Sans","labelColor":"#333","labelPadding":3,
          "title":"MFL","titleFont":"Liberation Serif","titleFontWeight":"bold","titleFontSize":14,"titleColor":"#222","titleX":202,"titleY":15,"titleAlign":"center","titleBaseline":"middle"}},
      "y": {"field":"y","type":"quantitative","scale":{"domain":[0,200]},
        "axis":{"values":[0,10,20,30,40,50,60,70,80,90,100,110,120,130,140,150,160,170,180,190,200],
          "labelExpr":"datum.value%50==0?datum.label:''","tickSize":{"condition":{"test":"datum.value%50==0","value":6},"value":3},
          "tickColor":"#333","tickWidth":1.2,"domain":false,"labelAngle":270,"labelAlign":"center","labelBaseline":"bottom","labelFontSize":9,"labelColor":"#333","labelPadding":6,
          "title":"Count","titleFont":"Liberation Sans","titleFontSize":11,"titleFontWeight":"normal","titleColor":"#333","titlePadding":6}},
      "stroke": {"field":"s","type":"nominal","scale":{"domain":["Isotype Control","Normal Lung","LLC-bearing Lung"],"range":["#111111","#b8b8b8","#6a6a6a"]},
        "legend":{"orient":"none","legendX":-61,"legendY":196,"direction":"horizontal","columns":3,"title":null,"symbolType":"stroke","symbolSize":400,"symbolStrokeWidth":3.5,"labelFont":"Liberation Serif","labelFontWeight":"bold","labelFontSize":19,"labelColor":"#222","labelLimit":400,"columnPadding":8,"labelOffset":2}}
     }
    },
    {
     "mark": {"type":"line","clip":true,"strokeOpacity":0},
     "encoding": {
      "x": {"field":"x","type":"quantitative","scale":{"type":"log","domain":[29.2,260000]},
        "axis":{"orient":"top","labels":false,"ticks":false,"domain":false,"title":"CD3","titleX":376,"titleY":29,"titleAlign":"right","titleBaseline":"alphabetic","titleFont":"Liberation Serif","titleFontSize":26,"titleFontWeight":"bold","titleColor":"#1a1a1a"}},
      "y": {"field":"y","type":"quantitative","axis":null}
     }
    }
   ],
   "resolve": {"axis":{"x":"independent","y":"independent"}}
  }
 ],
 "spacing": 62,
 "bounds": "flush",
 "resolve": {"scale":{"stroke":"independent"},"legend":{"stroke":"independent"}}
},
{
 "spacing": 22,
 "vconcat": [
  {
   "width": 459, "height": 407,
   "view": {"stroke": null},
   "layer": [
    {
     "data": {"name":"bars"},
     "mark": {"type":"bar","stroke":"#111","strokeWidth":1.2},
     "encoding": {
      "x": {"field":"cat","type":"nominal","sort":null,"scale":{"domain":["CD11b","CD11c","CD31","CD3","Tissue","Culture"],"paddingInner":0,"paddingOuter":0},
        "axis":{"labelAngle":0,"labelFont":"Liberation Serif","labelFontWeight":"bold","labelFontSize":21,"labelColor":"#222","labelPadding":4,"ticks":false,"domainColor":"#111","domainWidth":2,
          "title":"←———— 1.0x10⁶ cells/ml ————→ ←1.0x10⁷ cells/ml→","titleFont":"Liberation Serif","titleFontWeight":"bold","titleFontSize":18,"titleColor":"#222","titleX":2,"titleY":37,"titleAlign":"left","titleAnchor":"start","titleBaseline":"middle"}},
      "xOffset": {"field":"grp","type":"nominal","sort":null,"scale":{"domain":["Normal Lung","LLC-bearing Lung"],"paddingInner":0,"paddingOuter":0.74}},
      "y": {"field":"v","type":"quantitative","scale":{"domain":[0,600],"range":[407,50]},
        "axis":{"values":[0,100,200,300,400,500,600],"labelFont":"Liberation Serif","labelFontWeight":"bold","labelFontSize":16,"labelColor":"#222","labelPadding":2,"tickSize":5,"tickWidth":2,"tickColor":"#111","domainColor":"#111","domainWidth":2,
          "title":"pg/ml","titleFont":"Liberation Serif","titleFontWeight":"bold","titleFontSize":16,"titleColor":"#222","titlePadding":6,"titleY":228}},
      "fill": {
        "condition": {"test":"datum.grp=='Normal Lung'","value":
          {"gradient":"linear","x1":0,"y1":0,"x2":1,"y2":0.5,"stops":[
           {"offset":0,"color":"#ffffff"},{"offset":0.108,"color":"#ffffff"},{"offset":0.108,"color":"#222222"},{"offset":0.1667,"color":"#222222"},
           {"offset":0.1667,"color":"#ffffff"},{"offset":0.275,"color":"#ffffff"},{"offset":0.275,"color":"#222222"},{"offset":0.3333,"color":"#222222"},
           {"offset":0.3333,"color":"#ffffff"},{"offset":0.4417,"color":"#ffffff"},{"offset":0.4417,"color":"#222222"},{"offset":0.5,"color":"#222222"},
           {"offset":0.5,"color":"#ffffff"},{"offset":0.6083,"color":"#ffffff"},{"offset":0.6083,"color":"#222222"},{"offset":0.6667,"color":"#222222"},
           {"offset":0.6667,"color":"#ffffff"},{"offset":0.775,"color":"#ffffff"},{"offset":0.775,"color":"#222222"},{"offset":0.8333,"color":"#222222"},
           {"offset":0.8333,"color":"#ffffff"},{"offset":0.9417,"color":"#ffffff"},{"offset":0.9417,"color":"#222222"},{"offset":1,"color":"#222222"}]}},
        "field":"grp","type":"nominal",
        "scale":{"domain":["Normal Lung","LLC-bearing Lung"],"range":["#ffffff","#111111"]},
        "legend":{"orient":"none","legendX":41,"legendY":118,"title":null,
          "symbolType":"M-1,-1H1V1H-1Z M-1,1L1,-1 M-1,0.5L0.5,-1 M-1,0L0,-1 M-1,-0.5L-0.5,-1 M-0.5,1L1,-0.5 M0,1L1,0 M0.5,1L1,0.5",
          "symbolSize":460,"symbolStrokeColor":"#111","symbolStrokeWidth":1.2,"labelFont":"Liberation Serif","labelFontWeight":"bold","labelFontSize":21,"labelColor":"#222","labelLimit":400,"rowPadding":7,"labelOffset":10,"direction":"vertical"}}
     }
    },
    {
     "data": {"name":"bars"},
     "mark": {"type":"rule","color":"#111","strokeWidth":1.5},
     "encoding": {
      "x": {"field":"cat","type":"nominal","sort":null,"axis":null},
      "xOffset": {"field":"grp","type":"nominal","sort":null},
      "y": {"field":"lo","type":"quantitative","axis":null},
      "y2": {"field":"hi"}
     }
    },
    {
     "data": {"name":"bars"},
     "mark": {"type":"tick","color":"#111","thickness":1.5,"size":11},
     "encoding": {
      "x": {"field":"cat","type":"nominal","sort":null,"axis":null},
      "xOffset": {"field":"grp","type":"nominal","sort":null},
      "y": {"field":"hi","type":"quantitative","axis":null}
     }
    },
    {
     "data": {"name":"ann"},
     "mark": {"type":"text","font":"Liberation Serif","fontWeight":"bold","fontSize":17,"color":"#222"},
     "encoding": {
      "x": {"field":"cat","type":"nominal","sort":null,
        "axis":{"orient":"top","labels":false,"ticks":false,"domain":false,"title":"B","titleX":-61,"titleY":17,"titleAlign":"left","titleBaseline":"alphabetic","titleFont":"Liberation Sans","titleFontSize":30,"titleFontWeight":"normal","titleColor":"#111"}},
      "y": {"field":"val","type":"quantitative",
        "axis":{"orient":"right","labels":false,"ticks":false,"domain":false,"title":["CCL22 Secretions From","Isolated Lung Fractions"],"titleAngle":0,"titleX":-248,"titleY":17,"titleAlign":"center","titleBaseline":"alphabetic","titleLineHeight":28,"titleFont":"Liberation Serif","titleFontSize":26,"titleFontWeight":"bold","titleColor":"#222"}},
      "text": {"field":"label"}
     }
    },
    {
     "data": {"values":[{"cat":"Culture","val":37,"label":"ND  ND"}]},
     "mark": {"type":"text","font":"Liberation Serif","fontWeight":"bold","fontSize":21,"color":"#222"},
     "encoding": {
      "x": {"field":"cat","type":"nominal","sort":null,"axis":null},
      "y": {"field":"val","type":"quantitative","axis":null},
      "text": {"field":"label"}
     }
    },
    {
     "data": {"values":[{"cat":"Tissue","lo":0,"hi":583}]},
     "mark": {"type":"rule","color":"#111","strokeWidth":2},
     "encoding": {
      "x": {"field":"cat","type":"nominal","sort":null,"bandPosition":0,"axis":null},
      "y": {"field":"lo","type":"quantitative","axis":null},
      "y2": {"field":"hi"}
     }
    }
   ],
   "resolve": {"axis":{"x":"independent","y":"independent"}}
  },
  {
   "vconcat": [
    {
     "width": 459, "height": 79,
     "view": {"stroke": null},
     "data": {"name":"tblh"},
     "encoding": {
      "x": {"field":"col","type":"nominal","sort":null,"scale":{"domain":["c0","c1","c2"],"range":[-55,461],"paddingInner":0,"paddingOuter":0},
        "axis":{"orient":"top","labels":false,"ticks":false,"domain":false,"title":"C","titleX":-55,"titleY":20,"titleAlign":"left","titleBaseline":"alphabetic","titleFont":"Liberation Sans","titleFontSize":30,"titleFontWeight":"normal","titleColor":"#111"}}
     },
     "layer": [
      {"mark": {"type":"rect","fill":"white","stroke":"#222","strokeWidth":2},
       "encoding": {"strokeOpacity":{"condition":{"test":"datum.col=='c0'","value":0},"value":1}}},
      {"transform": [{"filter":"datum.col!='c2'"}],
       "mark": {"type":"text","font":"Liberation Serif","fontWeight":"bold","fontSize":22,"color":"#222","baseline":"middle"},
       "encoding": {"text":{"field":"text"}}},
      {"transform": [{"filter":"datum.col=='c2'"}],
       "mark": {"type":"text","font":"Liberation Serif","fontWeight":"bold","fontSize":22,"color":"#222","lineBreak":"\n","lineHeight":30,"baseline":"middle","dy":-15},
       "encoding": {"text":{"field":"text"}}}
     ]
    },
    {
     "width": 459, "height": 178,
     "view": {"stroke": null},
     "data": {"name":"tblb"},
     "encoding": {
      "x": {"field":"col","type":"nominal","sort":null,"scale":{"domain":["c0","c1","c2"],"range":[-55,461],"paddingInner":0,"paddingOuter":0},"axis":null},
      "y": {"field":"row","type":"nominal","sort":null,"scale":{"domain":["CD11b","CD11c","CD31","CD4","CD8"],"paddingInner":0,"paddingOuter":0},"axis":null}
     },
     "layer": [
      {"mark": {"type":"rect","fill":"white","stroke":"#222","strokeWidth":2}},
      {"mark": {"type":"text","font":"Liberation Serif","fontWeight":"bold","fontSize":22,"color":"#222","baseline":"middle"},
       "encoding": {"text":{"field":"text"}}}
     ]
    }
   ],
   "spacing": 0,
   "bounds": "flush"
  }
 ]
}
],
"spacing": 20,
"resolve": {"scale":{"fill":"independent","stroke":"independent"},"legend":{"fill":"independent","stroke":"independent"}}
}
